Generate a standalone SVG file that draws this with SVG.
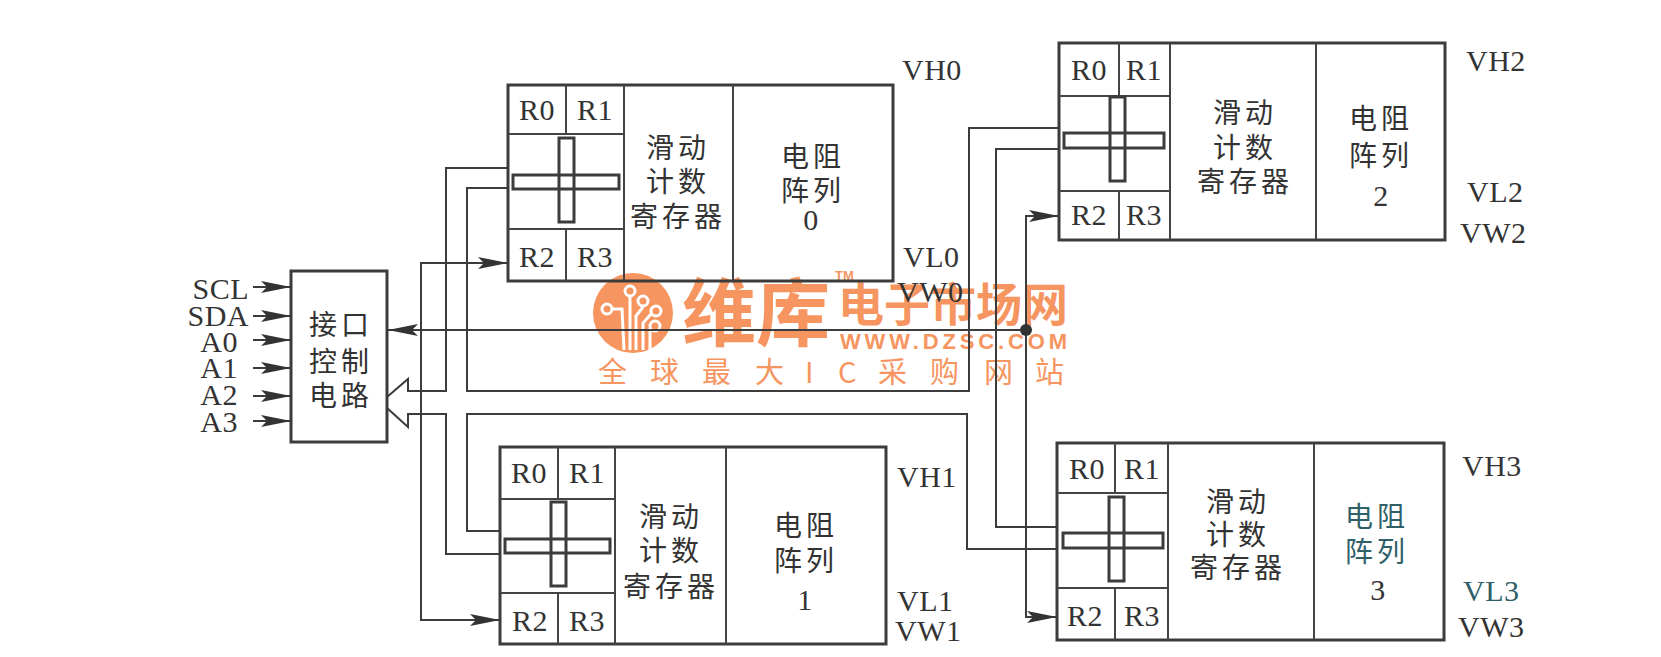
<svg xmlns="http://www.w3.org/2000/svg" width="1661" height="657" viewBox="0 0 1661 657">
<style>
.b{fill:none;stroke:#3c3c3c;stroke-width:3}
.i{fill:none;stroke:#444;stroke-width:2}
.c{fill:none;stroke:#3c3c3c;stroke-width:2}
.l{font-family:"Liberation Serif",serif;font-size:30px;fill:#333;letter-spacing:.5px}
.m{text-anchor:middle}
.z{font-family:"Noto Sans CJK SC",sans-serif;font-size:28px;fill:#333;text-anchor:middle;letter-spacing:4px}
.w{fill:#f6955f;font-family:"Noto Sans CJK SC",sans-serif;font-weight:700}
.v{fill:none;stroke:#fff;stroke-width:3}
.t{fill:#2f6068}
</style>
<defs>
<marker id="a" markerUnits="userSpaceOnUse" markerWidth="32" markerHeight="16" refX="30" refY="8" orient="auto">
<path d="M0,2 L30,8 L0,14 L6,8 Z" fill="#333"/>
</marker>
</defs>
<g id="watermark">
<circle cx="633" cy="313" r="40" fill="#f6955f"/>
<path class="v" d="M630,296V350M643,307L636,316V350M651,314L643,323V350M650,328V350M613,309L622,309L624,350"/>
<g fill="#f6955f" stroke="#fff" stroke-width="3"><circle cx="630" cy="291" r="5"/><circle cx="643" cy="301" r="5"/><circle cx="656" cy="311" r="5"/><circle cx="655" cy="326" r="5"/><circle cx="607" cy="309" r="5"/></g>
<text class="w" x="682" y="340" font-size="74">维库</text>
<text class="w" x="838" y="321" font-size="46">电子市场网</text>
<text x="835" y="280" font-size="13" font-family="Liberation Sans,sans-serif" font-weight="700" fill="#f6955f">TM</text>
<text x="840" y="349" font-size="22" font-family="Liberation Sans,sans-serif" font-weight="700" fill="#f6955f" textLength="227" lengthAdjust="spacing">WWW.DZSC.COM</text>
<text x="598 650 702 755 805 838 878 930 984 1035" y="383" font-size="29" font-family="Noto Sans CJK SC,sans-serif" fill="#f6955f">全球最大IC采购网站</text>
</g>
<g id="connectors">
<path class="c" marker-end="url(#a)" d="M253,287H291"/>
<path class="c" marker-end="url(#a)" d="M253,316H291"/>
<path class="c" marker-end="url(#a)" d="M253,340H291"/>
<path class="c" marker-end="url(#a)" d="M253,368H291"/>
<path class="c" marker-end="url(#a)" d="M253,396H291"/>
<path class="c" marker-end="url(#a)" d="M253,421H291"/>
<path class="c" marker-end="url(#a)" d="M1026,330H388"/>
<path class="c" marker-end="url(#a)" d="M421,330V263H508"/>
<path class="c" marker-end="url(#a)" d="M421,330V620H500"/>
<path class="c" marker-end="url(#a)" d="M1026,330V216H1059"/>
<path class="c" marker-end="url(#a)" d="M1026,330V617H1057"/>
<path class="c" d="M508,168H446V391H408V379L387,397"/>
<path class="c" d="M508,188H467V391H969V128H1059"/>
<path class="c" d="M387,408L408,427V414H446V554H500"/>
<path class="c" d="M500,531H467V414H967V549H1057"/>
<path class="c" d="M1059,149H996V527H1057"/>
<circle cx="1026" cy="330" r="6" fill="#333"/>
</g>
<g id="iface">
<rect class="b" x="291" y="271" width="96" height="171"/>
<text class="z" x="341" y="335">接口</text>
<text class="z" x="341" y="372">控制</text>
<text class="z" x="341" y="406">电路</text>
</g>
<g id="inputs" class="l">
<text x="249" y="299" text-anchor="end">SCL</text>
<text x="249" y="326" text-anchor="end">SDA</text>
<text x="238" y="352" text-anchor="end">A0</text>
<text x="238" y="378" text-anchor="end">A1</text>
<text x="238" y="405" text-anchor="end">A2</text>
<text x="238" y="432" text-anchor="end">A3</text>
</g>
<g id="node0">
<rect class="b" x="508" y="85" width="385" height="196"/>
<path class="i" d="M508,134H624M508,229H624M566,85V134M566,229V281M624,85V281M733,85V281"/>
<rect class="b" x="559" y="138" width="15" height="84"/>
<rect class="b" x="513" y="175" width="106" height="14"/>
<g class="l m"><text x="537" y="120">R0</text><text x="595" y="120">R1</text><text x="537" y="267">R2</text><text x="595" y="267">R3</text></g>
<text class="z" x="678" y="158">滑动</text><text class="z" x="678" y="192">计数</text><text class="z" x="678" y="227">寄存器</text>
<text class="z" x="813" y="167">电阻</text><text class="z" x="813" y="201">阵列</text>
<text class="l m" x="811" y="230">0</text>
<text class="l" x="902" y="80">VH0</text><text class="l" x="903" y="267">VL0</text><text class="l" x="897" y="302">VW0</text>
</g>
<g id="node1">
<rect class="b" x="500" y="447" width="386" height="197"/>
<path class="i" d="M500,499H615M500,593H615M558,447V499M558,593V644M615,447V644M726,447V644"/>
<rect class="b" x="551" y="502" width="15" height="84"/>
<rect class="b" x="505" y="539" width="105" height="14"/>
<g class="l m"><text x="529" y="483">R0</text><text x="587" y="483">R1</text><text x="530" y="631">R2</text><text x="587" y="631">R3</text></g>
<text class="z" x="671" y="527">滑动</text><text class="z" x="671" y="561">计数</text><text class="z" x="671" y="597">寄存器</text>
<text class="z" x="806" y="536">电阻</text><text class="z" x="806" y="571">阵列</text>
<text class="l m" x="805" y="610">1</text>
<text class="l" x="897" y="487">VH1</text><text class="l" x="897" y="611">VL1</text><text class="l" x="895" y="641">VW1</text>
</g>
<g id="node2">
<rect class="b" x="1059" y="43" width="386" height="197"/>
<path class="i" d="M1059,96H1170M1059,191H1170M1119,43V96M1119,191V240M1170,43V240M1316,43V240"/>
<rect class="b" x="1110" y="97" width="15" height="84"/>
<rect class="b" x="1064" y="133" width="100" height="15"/>
<g class="l m"><text x="1089" y="80">R0</text><text x="1144" y="80">R1</text><text x="1089" y="225">R2</text><text x="1144" y="225">R3</text></g>
<text class="z" x="1245" y="123">滑动</text><text class="z" x="1245" y="158">计数</text><text class="z" x="1245" y="192">寄存器</text>
<text class="z" x="1381" y="129">电阻</text><text class="z" x="1381" y="166">阵列</text>
<text class="l m" x="1381" y="206">2</text>
<text class="l" x="1466" y="71">VH2</text><text class="l" x="1467" y="202">VL2</text><text class="l" x="1460" y="243">VW2</text>
</g>
<g id="node3">
<rect class="b" x="1057" y="443" width="387" height="197"/>
<path class="i" d="M1057,493H1168M1057,588H1168M1115,443V493M1115,588V640M1168,443V640M1314,443V640"/>
<rect class="b" x="1109" y="497" width="15" height="84"/>
<rect class="b" x="1063" y="533" width="100" height="15"/>
<g class="l m"><text x="1087" y="479">R0</text><text x="1142" y="479">R1</text><text x="1085" y="626">R2</text><text x="1142" y="626">R3</text></g>
<text class="z" x="1238" y="512">滑动</text><text class="z" x="1238" y="545">计数</text><text class="z" x="1238" y="578">寄存器</text>
<text class="z t" x="1377" y="527">电阻</text><text class="z t" x="1377" y="562">阵列</text>
<text class="l m" x="1378" y="600">3</text>
<text class="l" x="1462" y="476">VH3</text><text class="l t" x="1463" y="601">VL3</text><text class="l" x="1458" y="637">VW3</text>
</g>
</svg>
